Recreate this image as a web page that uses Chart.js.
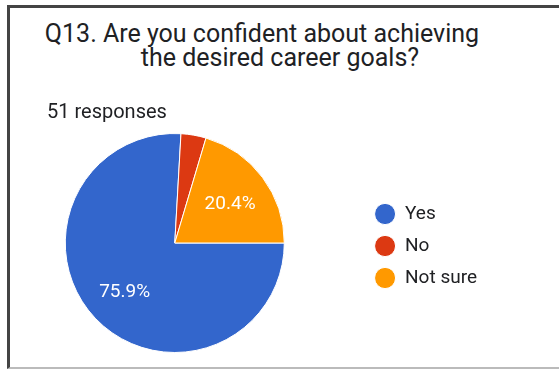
<!DOCTYPE html>
<html>
<head>
<meta charset="utf-8">
<script src="https://cdn.jsdelivr.net/npm/chart.js@4.4.1/dist/chart.umd.min.js"></script>
<style>
  html, body { margin: 0; padding: 0; background: #fff; }
  body { width: 559px; height: 369px; position: relative; overflow: hidden; font-family: Roboto, sans-serif; color: #202124; }
  #card { position: absolute; left: 7px; top: 5px; right: 0; height: 359px; border-left: 3px solid #444; border-top: 3px solid #444; border-bottom: 2px solid #bbb; pointer-events: none; }
  .txt { position: absolute; white-space: nowrap; line-height: 1; }
  #t1 { left: 0; width: 524px; text-align: center; top: 21px; font-size: 25px; }
  #t2 { left: 0; width: 560px; text-align: center; top: 45px; font-size: 25px; }
  #sub { left: 47px; top: 101px; font-size: 20px; color: #202124; }
  #wrap { position: absolute; left: -20px; top: 120px; width: 579px; height: 249px; }
</style>
</head>
<body>
<div id="wrap"><canvas id="pie"></canvas></div>
<div class="txt" id="t1">Q13. Are you confident about achieving</div>
<div class="txt" id="t2">the desired career goals?</div>
<div class="txt" id="sub">51 responses</div>
<div id="card"></div>
<script>
var answers = ["Yes", "No", "Not sure"];
var percents = [75.9, 3.7, 20.4];
var sliceColors = ["#3366cc", "#dc3912", "#ff9900"];

// write the percentage inside each slice (skip tiny ones like google forms does)
var sliceLabels = {
  id: 'sliceLabels',
  afterDatasetsDraw: function(chart) {
    var ctx = chart.ctx;
    var meta = chart.getDatasetMeta(0);
    var values = chart.data.datasets[0].data;
    ctx.save();
    ctx.fillStyle = '#fff';
    ctx.font = '19px Roboto';
    ctx.textAlign = 'center';
    ctx.textBaseline = 'middle';
    meta.data.forEach(function(arc, i) {
      if (values[i] < 5) return;
      var p = arc.getProps(['x', 'y', 'startAngle', 'endAngle', 'outerRadius'], true);
      var mid = (p.startAngle + p.endAngle) / 2;
      var r = p.outerRadius * 0.63;
      ctx.fillText(values[i].toFixed(1) + '%', p.x + Math.cos(mid) * r, p.y + Math.sin(mid) * r + 2);
    });
    ctx.restore();
  }
};

var ctx = document.getElementById('pie').getContext('2d');
var chart = new Chart(ctx, {
  type: 'pie',
  data: {
    labels: answers,
    datasets: [{
      data: percents,
      backgroundColor: sliceColors,
      borderColor: '#fff',
      borderWidth: 1
    }]
  },
  options: {
    responsive: true,
    maintainAspectRatio: false,
    animation: false,
    rotation: 90,
    layout: { padding: { left: 8, right: 72, top: 13, bottom: 16 } },
    plugins: {
      legend: {
        position: 'right',
        // empty title only nudges the items down a few px
        title: { display: true, text: '', font: { size: 5 }, padding: 0 },
        labels: {
          usePointStyle: true,
          pointStyle: 'circle',
          pointStyleWidth: 21,
          boxHeight: 15,
          padding: 13,
          color: '#202124',
          font: { family: 'Roboto', size: 19 }
        }
      },
      tooltip: { enabled: false }
    }
  },
  plugins: [sliceLabels]
});
</script>
</body>
</html>
